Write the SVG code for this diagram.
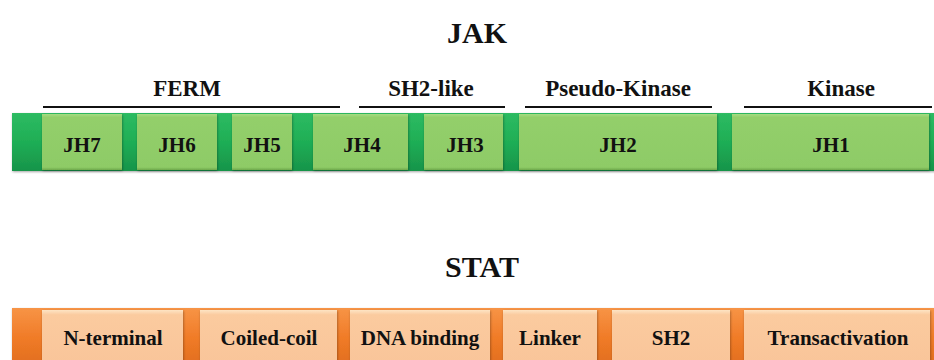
<svg xmlns="http://www.w3.org/2000/svg" width="934" height="360" viewBox="0 0 934 360">
<defs>
<linearGradient id="gG" x1="0" y1="0" x2="0" y2="1">
<stop offset="0" stop-color="#a6dc82"/>
<stop offset="0.06" stop-color="#93cf6b"/>
<stop offset="0.95" stop-color="#8ecb66"/>
<stop offset="1" stop-color="#6ea84c"/>
</linearGradient>
<linearGradient id="gO" x1="0" y1="0" x2="0" y2="1">
<stop offset="0" stop-color="#fde4c4"/>
<stop offset="0.08" stop-color="#fbcb9f"/>
<stop offset="1" stop-color="#f9c499"/>
</linearGradient>
<linearGradient id="bG" x1="0" y1="0" x2="0" y2="1">
<stop offset="0" stop-color="#2dbb62"/>
<stop offset="0.5" stop-color="#1fae55"/>
<stop offset="1" stop-color="#17944a"/>
</linearGradient>
<linearGradient id="bO" x1="0" y1="0" x2="0" y2="1">
<stop offset="0" stop-color="#f79446"/>
<stop offset="0.5" stop-color="#f07b27"/>
<stop offset="1" stop-color="#e06d1e"/>
</linearGradient>
<filter id="sh" x="-5%" y="-10%" width="110%" height="130%">
<feDropShadow dx="0.6" dy="1" stdDeviation="0.8" flood-color="#000" flood-opacity="0.35"/>
</filter>
</defs>
<style>
.t{font-family:'Liberation Serif','DejaVu Serif',serif;font-weight:700;fill:#111;text-anchor:middle}
.title{font-size:30px}
.lab{font-size:23px}
.bx{font-size:21px}
.gb{fill:url(#gG);filter:url(#sh)}
.ob{fill:url(#gO);filter:url(#sh)}
.ln{stroke:#111;stroke-width:2.2}
</style>

<text class="t title" x="477" y="43" font-family="Liberation Serif, DejaVu Serif, serif">JAK</text>
<text class="t title" x="482" y="277">STAT</text>

<g id="domains">
<text class="t lab" x="187" y="96">FERM</text>
<line class="ln" x1="43" y1="107" x2="340" y2="107"/>
<text class="t lab" x="431" y="96">SH2-like</text>
<line class="ln" x1="359" y1="107" x2="505" y2="107"/>
<text class="t lab" x="618" y="96">Pseudo-Kinase</text>
<line class="ln" x1="525" y1="107" x2="712" y2="107"/>
<text class="t lab" x="841" y="96">Kinase</text>
<line class="ln" x1="744" y1="107" x2="932" y2="107"/>
</g>

<g id="jak">
<rect x="12" y="113" width="930" height="58" fill="url(#bG)" filter="url(#sh)"/>
<g id="jh7"><rect class="gb" x="42" y="114" width="80" height="56"/><text class="t bx" x="82" y="152">JH7</text></g>
<g id="jh6"><rect class="gb" x="137" y="114" width="80" height="56"/><text class="t bx" x="177" y="152">JH6</text></g>
<g id="jh5"><rect class="gb" x="232" y="114" width="60" height="56"/><text class="t bx" x="262" y="152">JH5</text></g>
<g id="jh4"><rect class="gb" x="313" y="114" width="95" height="56"/><text class="t bx" x="362" y="152">JH4</text></g>
<g id="jh3"><rect class="gb" x="424" y="114" width="79" height="56"/><text class="t bx" x="465" y="152">JH3</text></g>
<g id="jh2"><rect class="gb" x="519" y="114" width="198" height="56"/><text class="t bx" x="618" y="152">JH2</text></g>
<g id="jh1"><rect class="gb" x="732" y="114" width="197" height="56"/><text class="t bx" x="831" y="152">JH1</text></g>
</g>

<g id="stat">
<rect x="12" y="308" width="930" height="60" fill="url(#bO)" filter="url(#sh)"/>
<g id="nterm"><rect class="ob" x="42" y="310" width="141" height="60"/><text class="t bx" x="113" y="345">N-terminal</text></g>
<g id="coiled"><rect class="ob" x="200" y="310" width="137" height="60"/><text class="t bx" x="269" y="345">Coiled-coil</text></g>
<g id="dna"><rect class="ob" x="350" y="310" width="140" height="60"/><text class="t bx" x="420" y="345">DNA binding</text></g>
<g id="linker"><rect class="ob" x="503" y="310" width="94" height="60"/><text class="t bx" x="550" y="345">Linker</text></g>
<g id="sh2"><rect class="ob" x="612" y="310" width="118" height="60"/><text class="t bx" x="671" y="345">SH2</text></g>
<g id="trans"><rect class="ob" x="744" y="310" width="186" height="60"/><text class="t bx" x="838" y="345">Transactivation</text></g>
</g>
</svg>
